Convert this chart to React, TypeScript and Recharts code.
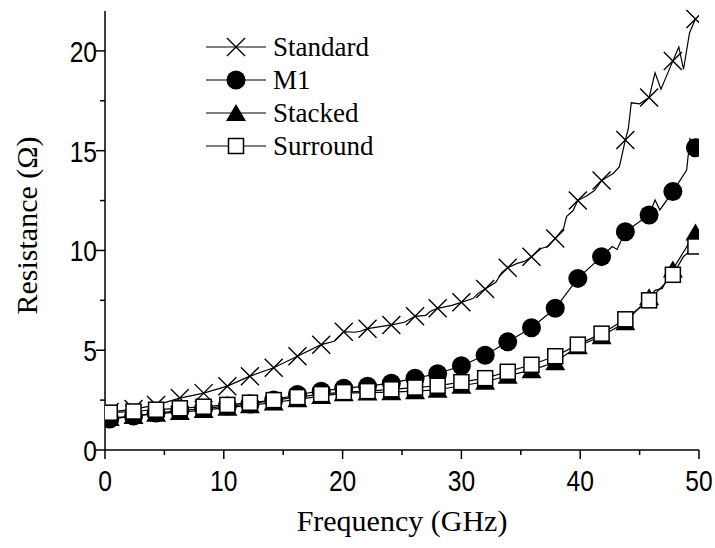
import React from 'react';
import { LineChart, Line, XAxis, YAxis, Legend } from 'recharts';

// marker positions (GHz) shared by all four curves
const markerFreq = [0.4, 2.4, 4.3, 6.3, 8.3, 10.3, 12.2, 14.2, 16.2, 18.2, 20.1, 22.1, 24.1, 26.1, 28.0, 30.0, 32.0, 33.9, 35.9, 37.9, 39.8, 41.8, 43.8, 45.8, 47.8, 49.7];

const standardMarks = [1.9, 2.05, 2.25, 2.6, 2.85, 3.2, 3.7, 4.12, 4.7, 5.28, 5.93, 6.08, 6.27, 6.7, 7.1, 7.4, 8.07, 9.13, 9.68, 10.6, 12.5, 13.5, 15.54, 17.66, 19.5, 21.6];
const m1Marks = [1.55, 1.7, 1.85, 1.98, 2.08, 2.2, 2.3, 2.5, 2.78, 2.95, 3.1, 3.2, 3.35, 3.6, 3.82, 4.22, 4.75, 5.42, 6.13, 7.1, 8.6, 9.69, 10.94, 11.78, 12.95, 15.15];
const stackedMarks = [1.6, 1.7, 1.82, 1.9, 2.0, 2.12, 2.24, 2.38, 2.54, 2.7, 2.85, 2.88, 2.9, 2.95, 3.02, 3.22, 3.42, 3.72, 4.0, 4.4, 5.2, 5.7, 6.4, 7.65, 9.05, 10.9];
const surroundMarks = [1.87, 1.93, 2.02, 2.09, 2.17, 2.26, 2.37, 2.5, 2.65, 2.8, 2.9, 2.95, 3.04, 3.13, 3.22, 3.4, 3.6, 3.92, 4.27, 4.7, 5.28, 5.83, 6.55, 7.5, 8.78, 10.2];

// in-between samples (no marker) where the curves wiggle
const standardExtraF = [19.3, 21.0, 21.5, 25.2, 27.0, 27.4, 29.2, 31.0, 31.4, 32.9, 33.4, 34.7, 35.3, 36.7, 37.3, 38.6, 38.85, 39.4, 40.6, 41.2, 42.8, 43.3, 44.05, 44.3, 45.0, 46.3, 46.8, 48.3, 48.7, 49.2];
const standardExtraR = [5.45, 5.9, 5.95, 6.4, 6.75, 6.95, 7.25, 7.6, 7.85, 8.4, 8.9, 9.35, 9.45, 10.1, 10.2, 11.1, 11.7, 12.0, 12.75, 13.0, 13.87, 14.2, 16.1, 17.4, 17.35, 18.9, 18.08, 20.2, 19.08, 20.9];
const m1ExtraF = [42.7, 43.1, 46.3, 46.7, 48.96, 49.24];
const m1ExtraR = [10.2, 10.05, 12.53, 12.03, 14.03, 15.6];
const stackedExtraF = [46.3, 46.9];
const stackedExtraR = [8.0, 8.1];
const surroundExtraF = [48.7];
const surroundExtraR = [9.7];

const xTicks = [0, 5, 10, 15, 20, 25, 30, 35, 40, 45, 50];
const yTicks = [0, 2.5, 5, 7.5, 10, 12.5, 15, 17.5, 20];

const seriesNames = ['Standard', 'M1', 'Stacked', 'Surround'];
const seriesShapes = ['x', 'circle', 'triangle', 'square'];

const buildSeries = (marks: number[], extraF: number[], extraR: number[]) => {
  const pts = markerFreq.map((f, i) => ({ f, r: marks[i], m: true }));
  extraF.forEach((f, i) => pts.push({ f, r: extraR[i], m: false }));
  return pts.sort((a, b) => a.f - b.f);
};

const standardData = buildSeries(standardMarks, standardExtraF, standardExtraR);
const m1Data = buildSeries(m1Marks, m1ExtraF, m1ExtraR);
const stackedData = buildSeries(stackedMarks, stackedExtraF, stackedExtraR);
const surroundData = buildSeries(surroundMarks, surroundExtraF, surroundExtraR);

const serif = 'Liberation Serif, Times New Roman, Times, serif';
const sans = 'Liberation Sans, Arial, sans-serif';

function Marker({ kind, cx, cy }: { kind: string; cx: number; cy: number }) {
  switch (kind) {
    case 'x':
      return (
        <path
          d={`M${cx - 9},${cy - 9}L${cx + 9},${cy + 9}M${cx - 9},${cy + 9}L${cx + 9},${cy - 9}`}
          stroke="#000"
          strokeWidth={1.4}
          fill="none"
        />
      );
    case 'circle':
      return <circle cx={cx} cy={cy} r={9.5} fill="#000" />;
    case 'triangle':
      return <path d={`M${cx},${cy - 9}L${cx + 10},${cy + 8}L${cx - 10},${cy + 8}Z`} fill="#000" />;
    case 'square':
      return <rect x={cx - 7.5} y={cy - 7.5} width={15} height={15} fill="#fff" stroke="#000" strokeWidth={1.5} />;
    default:
      return null;
  }
}

const makeDot = (kind: string) => (props: any) => {
  const { cx, cy, payload, index } = props;
  if (!payload.m) return <g key={`d-${kind}-${index}`} />;
  return (
    <g key={`d-${kind}-${index}`}>
      <Marker kind={kind} cx={cx} cy={cy} />
    </g>
  );
};

// narrow-looking tick numbers: squeeze a regular sans horizontally
const XTick = (props: any) => {
  const { x, y, payload } = props;
  const major = payload.value % 10 === 0;
  return (
    <g>
      <line x1={x} y1={y} x2={x} y2={y + (major ? 9 : 5)} stroke="#000" strokeWidth={1.5} />
      {major && (
        <text
          transform={`translate(${x}, ${y + 41}) scale(0.82, 1)`}
          textAnchor="middle"
          style={{ fontFamily: sans, fontSize: 30 }}
          fill="#000"
        >
          {payload.value}
        </text>
      )}
    </g>
  );
};

const YTick = (props: any) => {
  const { x, y, payload } = props;
  const major = payload.value % 5 === 0;
  return (
    <g>
      <line x1={x} y1={y} x2={x - (major ? 9 : 5)} y2={y} stroke="#000" strokeWidth={1.5} />
      {major && (
        <text
          transform={`translate(${x - 8}, ${y + 11}) scale(0.82, 1)`}
          textAnchor="end"
          style={{ fontFamily: sans, fontSize: 30 }}
          fill="#000"
        >
          {payload.value}
        </text>
      )}
    </g>
  );
};

const renderLegend = () => (
  <svg width={200} height={140}>
    {seriesNames.map((name, i) => {
      const cy = 22 + i * 33;
      return (
        <g key={name}>
          <line x1={6} y1={cy} x2={66} y2={cy} stroke="#000" strokeWidth={1.2} />
          <Marker kind={seriesShapes[i]} cx={36} cy={cy} />
          <text x={73} y={cy + 9} style={{ fontFamily: serif, fontSize: 27 }} fill="#000">
            {name}
          </text>
        </g>
      );
    })}
  </svg>
);

const XTitle = (props: any) => {
  const { viewBox } = props;
  return (
    <text x={viewBox.x + viewBox.width / 2} y={531} textAnchor="middle" style={{ fontFamily: serif, fontSize: 30 }} fill="#000">
      Frequency (GHz)
    </text>
  );
};

const YTitle = (props: any) => {
  const { viewBox } = props;
  const cy = viewBox.y + viewBox.height / 2 - 5;
  return (
    <text transform={`translate(37, ${cy}) rotate(-90)`} textAnchor="middle" style={{ fontFamily: serif, fontSize: 30 }} fill="#000">
      Resistance (Ω)
    </text>
  );
};

export default function App() {
  return (
    <div style={{ position: 'absolute', left: 0, top: 0, width: 715, height: 548, background: '#fff' }}>
      <LineChart width={715} height={548} margin={{ top: 11, right: 16, bottom: 38, left: 0 }}>
        <XAxis
          dataKey="f"
          type="number"
          domain={[0, 50]}
          ticks={xTicks}
          allowDataOverflow
          height={60}
          tickSize={0}
          tickMargin={0}
          tickLine={false}
          tick={<XTick />}
          axisLine={{ stroke: '#000', strokeWidth: 1.5 }}
          label={{ content: <XTitle /> }}
        />
        <YAxis
          type="number"
          domain={[0, 22]}
          ticks={yTicks}
          width={105}
          tickSize={0}
          tickMargin={0}
          tickLine={false}
          tick={<YTick />}
          axisLine={{ stroke: '#000', strokeWidth: 1.5 }}
          label={{ content: <YTitle /> }}
        />
        <Legend
          layout="vertical"
          align="center"
          verticalAlign="middle"
          content={renderLegend}
          wrapperStyle={{ left: 200, top: 25, width: 200, height: 140 }}
        />
        <Line data={standardData} dataKey="r" name="Standard" stroke="#000" strokeWidth={1.2} dot={makeDot('x')} activeDot={false} isAnimationActive={false} />
        <Line data={m1Data} dataKey="r" name="M1" stroke="#000" strokeWidth={1.2} dot={makeDot('circle')} activeDot={false} isAnimationActive={false} />
        <Line data={stackedData} dataKey="r" name="Stacked" stroke="#000" strokeWidth={1.2} dot={makeDot('triangle')} activeDot={false} isAnimationActive={false} />
        <Line data={surroundData} dataKey="r" name="Surround" stroke="#000" strokeWidth={1.2} dot={makeDot('square')} activeDot={false} isAnimationActive={false} />
      </LineChart>
    </div>
  );
}
